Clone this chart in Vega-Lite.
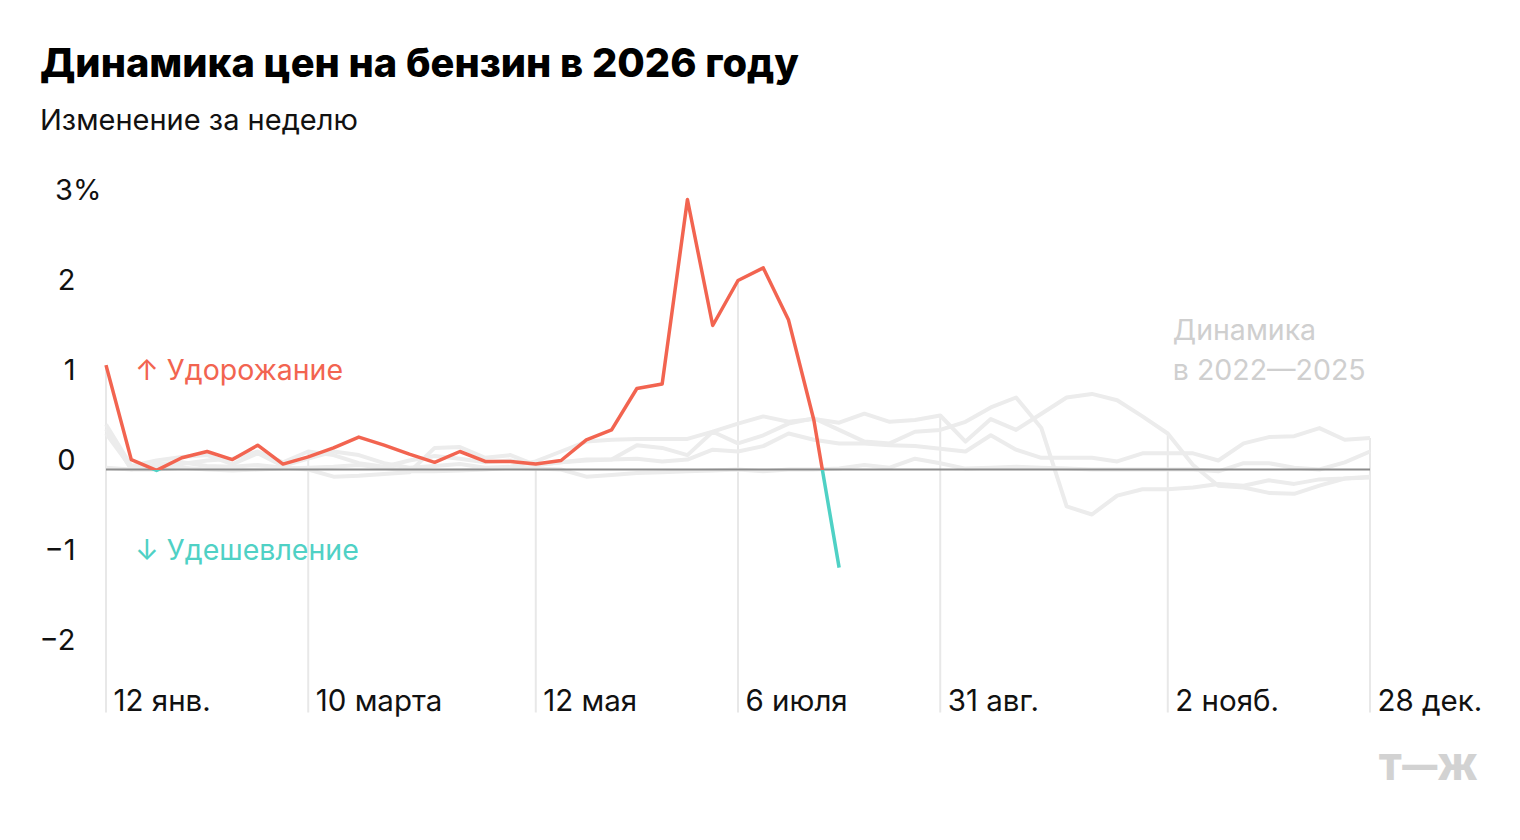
{
  "$schema": "https://vega.github.io/schema/vega-lite/v6.json",
  "width": 1264,
  "height": 549,
  "autosize": {"type": "none"},
  "padding": {"left": 106, "top": 163.5, "right": 150, "bottom": 127.5},
  "background": "white",
  "title": {
    "text": "Динамика цен на бензин в 2026 году",
    "subtitle": "Изменение за неделю",
    "anchor": "start",
    "frame": "group",
    "dx": -66,
    "offset": 27,
    "font": "Inter",
    "fontSize": 39.8,
    "fontWeight": 800,
    "color": "#000000",
    "subtitleFont": "Inter",
    "subtitleFontSize": 29,
    "subtitleColor": "#111111",
    "subtitlePadding": 21
  },
  "datasets": {
    "prices": [
      {"year":2022,"week":0,"value":0.5},{"year":2022,"week":1,"value":0.04},{"year":2022,"week":2,"value":0.1},{"year":2022,"week":3,"value":0.14},{"year":2022,"week":4,"value":0.16},{"year":2022,"week":5,"value":0.06},{"year":2022,"week":6,"value":0.18},{"year":2022,"week":7,"value":0.04},{"year":2022,"week":8,"value":0.12},{"year":2022,"week":9,"value":0.2},{"year":2022,"week":10,"value":0.16},{"year":2022,"week":11,"value":0.07},{"year":2022,"week":12,"value":0.02},{"year":2022,"week":13,"value":0.04},{"year":2022,"week":14,"value":0.06},{"year":2022,"week":15,"value":0.02},{"year":2022,"week":16,"value":0.03},{"year":2022,"week":17,"value":0.09},{"year":2022,"week":18,"value":0.2},{"year":2022,"week":19,"value":0.31},{"year":2022,"week":20,"value":0.33},{"year":2022,"week":21,"value":0.34},{"year":2022,"week":22,"value":0.34},{"year":2022,"week":23,"value":0.34},{"year":2022,"week":24,"value":0.42},{"year":2022,"week":25,"value":0.51},{"year":2022,"week":26,"value":0.59},{"year":2022,"week":27,"value":0.53},{"year":2022,"week":28,"value":0.56},{"year":2022,"week":29,"value":0.52},{"year":2022,"week":30,"value":0.62},{"year":2022,"week":31,"value":0.53},{"year":2022,"week":32,"value":0.55},{"year":2022,"week":33,"value":0.6},{"year":2022,"week":34,"value":0.31},{"year":2022,"week":35,"value":0.56},{"year":2022,"week":36,"value":0.44},{"year":2022,"week":37,"value":0.62},{"year":2022,"week":38,"value":0.8},{"year":2022,"week":39,"value":0.84},{"year":2022,"week":40,"value":0.77},{"year":2022,"week":41,"value":0.59},{"year":2022,"week":42,"value":0.4},{"year":2022,"week":43,"value":0.05},{"year":2022,"week":44,"value":-0.18},{"year":2022,"week":45,"value":-0.2},{"year":2022,"week":46,"value":-0.26},{"year":2022,"week":47,"value":-0.27},{"year":2022,"week":48,"value":-0.18},{"year":2022,"week":49,"value":-0.1},{"year":2022,"week":50,"value":-0.09},
      {"year":2023,"week":0,"value":0.45},{"year":2023,"week":1,"value":0.0},{"year":2023,"week":2,"value":0.06},{"year":2023,"week":3,"value":0.08},{"year":2023,"week":4,"value":0.04},{"year":2023,"week":5,"value":0.03},{"year":2023,"week":6,"value":0.05},{"year":2023,"week":7,"value":0.02},{"year":2023,"week":8,"value":0.0},{"year":2023,"week":9,"value":-0.08},{"year":2023,"week":10,"value":-0.07},{"year":2023,"week":11,"value":-0.05},{"year":2023,"week":12,"value":-0.03},{"year":2023,"week":13,"value":0.24},{"year":2023,"week":14,"value":0.25},{"year":2023,"week":15,"value":0.13},{"year":2023,"week":16,"value":0.16},{"year":2023,"week":17,"value":0.05},{"year":2023,"week":18,"value":0.08},{"year":2023,"week":19,"value":0.1},{"year":2023,"week":20,"value":0.11},{"year":2023,"week":21,"value":0.27},{"year":2023,"week":22,"value":0.24},{"year":2023,"week":23,"value":0.16},{"year":2023,"week":24,"value":0.42},{"year":2023,"week":25,"value":0.29},{"year":2023,"week":26,"value":0.38},{"year":2023,"week":27,"value":0.51},{"year":2023,"week":28,"value":0.57},{"year":2023,"week":29,"value":0.44},{"year":2023,"week":30,"value":0.31},{"year":2023,"week":31,"value":0.29},{"year":2023,"week":32,"value":0.42},{"year":2023,"week":33,"value":0.44},{"year":2023,"week":34,"value":0.53},{"year":2023,"week":35,"value":0.69},{"year":2023,"week":36,"value":0.8},{"year":2023,"week":37,"value":0.46},{"year":2023,"week":38,"value":-0.41},{"year":2023,"week":39,"value":-0.5},{"year":2023,"week":40,"value":-0.29},{"year":2023,"week":41,"value":-0.22},{"year":2023,"week":42,"value":-0.22},{"year":2023,"week":43,"value":-0.2},{"year":2023,"week":44,"value":-0.16},{"year":2023,"week":45,"value":-0.18},{"year":2023,"week":46,"value":-0.12},{"year":2023,"week":47,"value":-0.16},{"year":2023,"week":48,"value":-0.11},{"year":2023,"week":49,"value":-0.1},{"year":2023,"week":50,"value":-0.08},
      {"year":2024,"week":0,"value":0.4},{"year":2024,"week":1,"value":0.02},{"year":2024,"week":2,"value":0.03},{"year":2024,"week":3,"value":0.06},{"year":2024,"week":4,"value":0.1},{"year":2024,"week":5,"value":0.12},{"year":2024,"week":6,"value":0.2},{"year":2024,"week":7,"value":0.08},{"year":2024,"week":8,"value":0.2},{"year":2024,"week":9,"value":0.16},{"year":2024,"week":10,"value":0.07},{"year":2024,"week":11,"value":0.03},{"year":2024,"week":12,"value":0.1},{"year":2024,"week":13,"value":0.15},{"year":2024,"week":14,"value":0.12},{"year":2024,"week":15,"value":0.08},{"year":2024,"week":16,"value":0.1},{"year":2024,"week":17,"value":0.05},{"year":2024,"week":18,"value":0.08},{"year":2024,"week":19,"value":0.11},{"year":2024,"week":20,"value":0.11},{"year":2024,"week":21,"value":0.12},{"year":2024,"week":22,"value":0.09},{"year":2024,"week":23,"value":0.11},{"year":2024,"week":24,"value":0.22},{"year":2024,"week":25,"value":0.2},{"year":2024,"week":26,"value":0.26},{"year":2024,"week":27,"value":0.4},{"year":2024,"week":28,"value":0.33},{"year":2024,"week":29,"value":0.29},{"year":2024,"week":30,"value":0.29},{"year":2024,"week":31,"value":0.27},{"year":2024,"week":32,"value":0.26},{"year":2024,"week":33,"value":0.23},{"year":2024,"week":34,"value":0.2},{"year":2024,"week":35,"value":0.38},{"year":2024,"week":36,"value":0.22},{"year":2024,"week":37,"value":0.13},{"year":2024,"week":38,"value":0.13},{"year":2024,"week":39,"value":0.13},{"year":2024,"week":40,"value":0.09},{"year":2024,"week":41,"value":0.18},{"year":2024,"week":42,"value":0.18},{"year":2024,"week":43,"value":0.18},{"year":2024,"week":44,"value":0.1},{"year":2024,"week":45,"value":0.29},{"year":2024,"week":46,"value":0.36},{"year":2024,"week":47,"value":0.37},{"year":2024,"week":48,"value":0.46},{"year":2024,"week":49,"value":0.33},{"year":2024,"week":50,"value":0.35},
      {"year":2025,"week":0,"value":0.02},{"year":2025,"week":1,"value":0.0},{"year":2025,"week":2,"value":0.0},{"year":2025,"week":3,"value":0.02},{"year":2025,"week":4,"value":0.0},{"year":2025,"week":5,"value":-0.01},{"year":2025,"week":6,"value":0.0},{"year":2025,"week":7,"value":0.01},{"year":2025,"week":8,"value":0.02},{"year":2025,"week":9,"value":0.03},{"year":2025,"week":10,"value":0.05},{"year":2025,"week":11,"value":0.02},{"year":2025,"week":12,"value":-0.02},{"year":2025,"week":13,"value":-0.02},{"year":2025,"week":14,"value":-0.01},{"year":2025,"week":15,"value":0.0},{"year":2025,"week":16,"value":0.02},{"year":2025,"week":17,"value":0.01},{"year":2025,"week":18,"value":0.0},{"year":2025,"week":19,"value":-0.08},{"year":2025,"week":20,"value":-0.06},{"year":2025,"week":21,"value":-0.04},{"year":2025,"week":22,"value":-0.03},{"year":2025,"week":23,"value":-0.02},{"year":2025,"week":24,"value":-0.01},{"year":2025,"week":25,"value":0.0},{"year":2025,"week":26,"value":-0.02},{"year":2025,"week":27,"value":0.0},{"year":2025,"week":28,"value":0.0},{"year":2025,"week":29,"value":0.01},{"year":2025,"week":30,"value":0.05},{"year":2025,"week":31,"value":0.02},{"year":2025,"week":32,"value":0.12},{"year":2025,"week":33,"value":0.07},{"year":2025,"week":34,"value":0.01},{"year":2025,"week":35,"value":0.02},{"year":2025,"week":36,"value":0.03},{"year":2025,"week":37,"value":0.02},{"year":2025,"week":38,"value":0.01},{"year":2025,"week":39,"value":0.0},{"year":2025,"week":40,"value":0.0},{"year":2025,"week":41,"value":0.0},{"year":2025,"week":42,"value":0.0},{"year":2025,"week":43,"value":0.0},{"year":2025,"week":44,"value":-0.02},{"year":2025,"week":45,"value":0.07},{"year":2025,"week":46,"value":0.07},{"year":2025,"week":47,"value":0.02},{"year":2025,"week":48,"value":0.0},{"year":2025,"week":49,"value":0.08},{"year":2025,"week":50,"value":0.2},
      {"year":2026,"week":0,"value":1.16},{"year":2026,"week":1,"value":0.11},{"year":2026,"week":2,"value":-0.01},{"year":2026,"week":3,"value":0.13},{"year":2026,"week":4,"value":0.2},{"year":2026,"week":5,"value":0.11},{"year":2026,"week":6,"value":0.27},{"year":2026,"week":7,"value":0.06},{"year":2026,"week":8,"value":0.14},{"year":2026,"week":9,"value":0.24},{"year":2026,"week":10,"value":0.36},{"year":2026,"week":11,"value":0.27},{"year":2026,"week":12,"value":0.17},{"year":2026,"week":13,"value":0.08},{"year":2026,"week":14,"value":0.2},{"year":2026,"week":15,"value":0.09},{"year":2026,"week":16,"value":0.09},{"year":2026,"week":17,"value":0.06},{"year":2026,"week":18,"value":0.1},{"year":2026,"week":19,"value":0.33},{"year":2026,"week":20,"value":0.44},{"year":2026,"week":21,"value":0.9},{"year":2026,"week":22,"value":0.95},{"year":2026,"week":23,"value":3.0},{"year":2026,"week":24,"value":1.6},{"year":2026,"week":25,"value":2.1},{"year":2026,"week":26,"value":2.24},{"year":2026,"week":27,"value":1.66},{"year":2026,"week":28,"value":0.55},{"year":2026,"week":29,"value":-1.09}
    ]
  },
  "layer": [
    {
      "data": {"name": "prices"},
      "transform": [
        {"filter": {"field": "week", "oneOf": [0, 8, 17, 25, 33, 42, 50]}},
        {"aggregate": [{"op": "max", "field": "value", "as": "top"}], "groupby": ["week"]}
      ],
      "mark": {"type": "rule", "color": "#e8e8e8", "strokeWidth": 2},
      "encoding": {
        "x": {
          "field": "week",
          "type": "quantitative",
          "scale": {"domain": [0, 50], "nice": false, "zero": false},
          "axis": {
            "values": [0, 8, 17, 25, 33, 42, 50],
            "title": null,
            "domain": false,
            "ticks": false,
            "grid": false,
            "labelFont": "Inter",
            "labelFontSize": 29.5,
            "labelColor": "#111111",
            "labelAlign": "left",
            "labelBaseline": "alphabetic",
            "labelPadding": -2,
            "labelOffset": 7,
            "labelFlush": false,
            "labelBound": false,
            "labelOverlap": false,
            "labelExpr": "datum.value == 0 ? '12 янв.' : datum.value == 8 ? '10 марта' : datum.value == 17 ? '12 мая' : datum.value == 25 ? '6 июля' : datum.value == 33 ? '31 авг.' : datum.value == 42 ? '2 нояб.' : '28 дек.'"
          }
        },
        "y": {
          "field": "top",
          "type": "quantitative",
          "scale": {"domain": [-2.7, 3.4], "nice": false, "zero": false},
          "axis": {
            "values": [-2, -1, 0, 1, 2, 3],
            "title": null,
            "domain": false,
            "ticks": false,
            "grid": false,
            "labelFont": "Inter",
            "labelFontSize": 29,
            "labelColor": "#111111",
            "labelAlign": "right",
            "labelBaseline": "alphabetic",
            "labelPadding": {"condition": {"test": "datum.value == 3", "value": 5}, "value": 31},
            "labelExpr": "datum.value == 3 ? '3%' : datum.value < 0 ? '−' + abs(datum.value) : '' + datum.value"
          }
        },
        "y2": {"datum": -2.7}
      }
    },
    {
      "data": {"name": "prices"},
      "transform": [{"filter": "datum.year < 2026"}],
      "mark": {"type": "line", "color": "#ececec", "strokeWidth": 4, "strokeJoin": "round"},
      "encoding": {
        "x": {"field": "week", "type": "quantitative"},
        "y": {"field": "value", "type": "quantitative"},
        "detail": {"field": "year", "type": "nominal"}
      }
    },
    {
      "data": {"values": [{}]},
      "mark": {"type": "rule", "color": "#8c8c8c", "strokeWidth": 2},
      "encoding": {
        "y": {"datum": 0, "type": "quantitative"}
      }
    },
    {
      "data": {"name": "prices"},
      "transform": [{"filter": "datum.year == 2026"}],
      "mark": {
        "type": "line",
        "strokeWidth": 3.5,
        "strokeJoin": "round",
        "stroke": {
          "gradient": "linear",
          "x1": 0, "y1": 0, "x2": 0, "y2": 1,
          "stops": [
            {"offset": 0, "color": "#f26450"},
            {"offset": 0.7335, "color": "#f26450"},
            {"offset": 0.7335, "color": "#4fd1c5"},
            {"offset": 1, "color": "#4fd1c5"}
          ]
        }
      },
      "encoding": {
        "x": {"field": "week", "type": "quantitative"},
        "y": {"field": "value", "type": "quantitative"}
      }
    },
    {
      "data": {"values": [{}]},
      "mark": {"type": "text", "text": "↑ Удорожание", "font": "Inter", "fontSize": 28.5, "color": "#f26450", "align": "left", "baseline": "alphabetic"},
      "encoding": {
        "x": {"datum": 1.15, "type": "quantitative"},
        "y": {"datum": 1, "type": "quantitative"}
      }
    },
    {
      "data": {"values": [{}]},
      "mark": {"type": "text", "text": "↓ Удешевление", "font": "Inter", "fontSize": 28.5, "color": "#4fd1c5", "align": "left", "baseline": "alphabetic"},
      "encoding": {
        "x": {"datum": 1.15, "type": "quantitative"},
        "y": {"datum": -1, "type": "quantitative"}
      }
    },
    {
      "data": {"values": [{}]},
      "mark": {"type": "text", "text": "Динамика", "font": "Inter", "fontSize": 28.5, "color": "#cfcfcf", "align": "left", "baseline": "alphabetic"},
      "encoding": {
        "x": {"datum": 42.2, "type": "quantitative"},
        "y": {"datum": 1.44, "type": "quantitative"}
      }
    },
    {
      "data": {"values": [{}]},
      "mark": {"type": "text", "text": "в 2022—2025", "font": "Inter", "fontSize": 28.5, "color": "#cfcfcf", "align": "left", "baseline": "alphabetic"},
      "encoding": {
        "x": {"datum": 42.2, "type": "quantitative"},
        "y": {"datum": 1.0, "type": "quantitative"}
      }
    },
    {
      "data": {"values": [{}]},
      "mark": {"type": "text", "text": "Т—Ж", "font": "Inter", "fontSize": 35, "fontWeight": 900, "color": "#d2d2d2", "align": "right", "baseline": "middle"},
      "encoding": {
        "x": {"datum": 54.27, "type": "quantitative"},
        "y": {"datum": -3.33, "type": "quantitative"}
      }
    }
  ],
  "config": {
    "view": {"stroke": null}
  }
}
